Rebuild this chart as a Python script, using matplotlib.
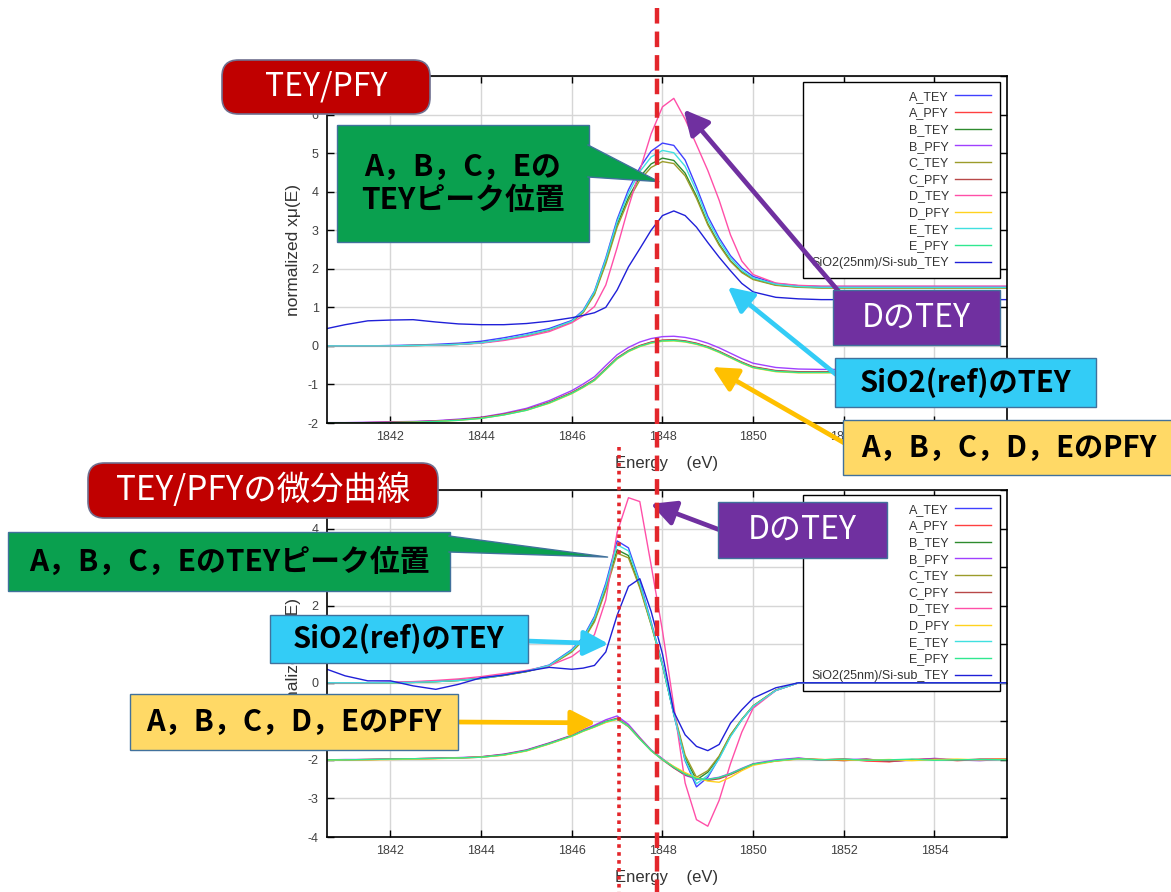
import matplotlib
matplotlib.use("Agg")
import matplotlib.pyplot as plt
from matplotlib.patches import FancyBboxPatch, Rectangle, Polygon
from matplotlib.lines import Line2D
from matplotlib.transforms import blended_transform_factory

plt.rcParams["axes.unicode_minus"] = False

W, H = 1171, 892

# photon energy grid (eV)
energy = [1840.6, 1841.0, 1841.5, 1842.0, 1842.5, 1843.0, 1843.5, 1844.0, 1844.5, 1845.0,
          1845.5, 1846.0, 1846.25, 1846.5, 1846.75, 1847.0, 1847.25, 1847.5, 1847.75, 1848.0,
          1848.25, 1848.5, 1848.75, 1849.0, 1849.25, 1849.5, 1849.75, 1850.0, 1850.5, 1851.0,
          1851.5, 1852.0, 1852.5, 1853.0, 1853.5, 1854.0, 1854.5, 1855.0, 1855.6]

# normalized spectra (PFY shifted down by 2)
a_tey = [0.00, 0.00, 0.00, 0.01, 0.02, 0.04, 0.07, 0.12, 0.21, 0.32,
         0.45, 0.66, 0.92, 1.42, 2.28, 3.28, 4.05, 4.62, 5.05, 5.26,
         5.20, 4.82, 4.12, 3.36, 2.80, 2.34, 2.02, 1.80, 1.62, 1.56,
         1.54, 1.54, 1.54, 1.54, 1.54, 1.54, 1.54, 1.54, 1.54]
a_pfy = [-2.00, -2.00, -1.99, -1.98, -1.97, -1.95, -1.92, -1.87, -1.78, -1.66,
         -1.47, -1.22, -1.06, -0.88, -0.60, -0.32, -0.13, 0.00, 0.09, 0.14,
         0.15, 0.12, 0.06, -0.03, -0.15, -0.29, -0.43, -0.55, -0.65, -0.68,
         -0.68, -0.68, -0.68, -0.68, -0.68, -0.68, -0.68, -0.68, -0.68]
b_tey = [0.00, 0.00, 0.00, 0.00, 0.01, 0.02, 0.04, 0.08, 0.16, 0.27,
         0.41, 0.63, 0.88, 1.36, 2.18, 3.15, 3.85, 4.38, 4.72, 4.87,
         4.81, 4.48, 3.88, 3.17, 2.64, 2.21, 1.92, 1.74, 1.58, 1.53,
         1.51, 1.51, 1.51, 1.51, 1.51, 1.51, 1.51, 1.51, 1.51]
b_pfy = [-1.99, -1.99, -1.98, -1.97, -1.96, -1.94, -1.90, -1.85, -1.75, -1.62,
         -1.42, -1.16, -0.99, -0.80, -0.51, -0.23, -0.04, 0.10, 0.19, 0.24,
         0.25, 0.22, 0.16, 0.07, -0.05, -0.19, -0.33, -0.45, -0.56, -0.60,
         -0.61, -0.61, -0.61, -0.61, -0.61, -0.61, -0.61, -0.61, -0.61]
c_tey = [0.00, 0.00, 0.00, 0.00, 0.01, 0.02, 0.04, 0.08, 0.16, 0.27,
         0.41, 0.62, 0.86, 1.33, 2.13, 3.08, 3.78, 4.30, 4.63, 4.78,
         4.73, 4.41, 3.83, 3.14, 2.61, 2.19, 1.90, 1.72, 1.57, 1.52,
         1.50, 1.50, 1.50, 1.50, 1.50, 1.50, 1.50, 1.50, 1.50]
c_pfy = [-2.00, -2.00, -1.99, -1.98, -1.97, -1.95, -1.92, -1.86, -1.77, -1.65,
         -1.46, -1.21, -1.05, -0.87, -0.59, -0.31, -0.12, 0.01, 0.10, 0.15,
         0.16, 0.13, 0.07, -0.02, -0.14, -0.28, -0.42, -0.54, -0.64, -0.67,
         -0.67, -0.67, -0.67, -0.67, -0.67, -0.67, -0.67, -0.67, -0.67]
d_tey = [0.00, 0.00, 0.00, 0.00, 0.01, 0.02, 0.04, 0.07, 0.14, 0.24,
         0.37, 0.60, 0.78, 1.02, 1.58, 2.55, 3.60, 4.55, 5.50, 6.20,
         6.42, 5.88, 5.22, 4.55, 3.78, 2.88, 2.20, 1.85, 1.63, 1.57,
         1.55, 1.55, 1.55, 1.55, 1.55, 1.55, 1.55, 1.55, 1.55]
d_pfy = [-2.01, -2.01, -2.00, -1.99, -1.98, -1.96, -1.93, -1.88, -1.79, -1.67,
         -1.49, -1.24, -1.08, -0.90, -0.62, -0.34, -0.15, -0.02, 0.07, 0.12,
         0.13, 0.10, 0.04, -0.05, -0.17, -0.31, -0.45, -0.57, -0.67, -0.70,
         -0.70, -0.70, -0.70, -0.70, -0.70, -0.70, -0.70, -0.70, -0.70]
e_tey = [0.00, 0.00, 0.00, 0.00, 0.01, 0.02, 0.04, 0.08, 0.17, 0.28,
         0.42, 0.64, 0.90, 1.40, 2.24, 3.22, 3.96, 4.52, 4.90, 5.07,
         5.01, 4.66, 4.02, 3.27, 2.73, 2.28, 1.96, 1.76, 1.60, 1.54,
         1.52, 1.52, 1.52, 1.52, 1.52, 1.52, 1.52, 1.52, 1.52]
e_pfy = [-2.00, -2.00, -2.00, -1.99, -1.98, -1.96, -1.93, -1.88, -1.79, -1.67,
         -1.48, -1.23, -1.07, -0.89, -0.61, -0.33, -0.14, -0.01, 0.08, 0.13,
         0.14, 0.11, 0.05, -0.04, -0.16, -0.30, -0.44, -0.56, -0.66, -0.69,
         -0.69, -0.69, -0.69, -0.69, -0.69, -0.69, -0.69, -0.69, -0.69]
sio2_tey = [0.45, 0.55, 0.65, 0.67, 0.68, 0.62, 0.57, 0.55, 0.55, 0.58,
            0.64, 0.73, 0.79, 0.86, 1.00, 1.45, 2.05, 2.52, 3.00, 3.38,
            3.50, 3.38, 3.08, 2.68, 2.30, 1.95, 1.62, 1.40, 1.26, 1.22,
            1.20, 1.20, 1.20, 1.20, 1.20, 1.20, 1.20, 1.20, 1.20]

# first derivatives (PFY shifted down by 2)
da_tey = [0.00, 0.00, 0.00, 0.01, 0.02, 0.04, 0.07, 0.12, 0.20, 0.30,
          0.46, 0.86, 1.18, 1.72, 2.58, 3.68, 3.50, 2.62, 1.58, 0.48,
          -0.82, -2.02, -2.70, -2.45, -1.95, -1.38, -0.96, -0.62, -0.20, 0.00,
          0.00, 0.00, 0.00, 0.00, 0.00, 0.00, 0.00, 0.00, 0.00]
da_pfy = [-2.00, -2.00, -1.99, -1.98, -1.97, -1.96, -1.95, -1.93, -1.87, -1.76,
          -1.58, -1.38, -1.25, -1.14, -1.02, -0.93, -1.14, -1.45, -1.75, -1.98,
          -2.18, -2.36, -2.49, -2.52, -2.47, -2.37, -2.24, -2.12, -2.02, -1.96,
          -2.00, -1.97, -2.03, -2.05, -1.99, -1.97, -2.02, -1.99, -1.97]
db_tey = [0.00, 0.00, 0.00, 0.00, 0.01, 0.03, 0.06, 0.11, 0.19, 0.29,
          0.44, 0.82, 1.12, 1.62, 2.45, 3.45, 3.30, 2.50, 1.52, 0.45,
          -0.80, -1.95, -2.52, -2.32, -1.92, -1.36, -0.95, -0.60, -0.19, 0.00,
          0.00, 0.00, 0.00, 0.00, 0.00, 0.00, 0.00, 0.00, 0.00]
db_pfy = [-2.00, -1.99, -1.99, -1.98, -1.97, -1.96, -1.94, -1.92, -1.85, -1.74,
          -1.56, -1.36, -1.22, -1.10, -0.96, -0.86, -1.08, -1.42, -1.74, -1.97,
          -2.20, -2.40, -2.50, -2.50, -2.45, -2.35, -2.22, -2.10, -2.00, -1.95,
          -2.01, -1.99, -1.98, -2.03, -2.01, -1.96, -2.00, -2.02, -1.98]
dc_tey = [0.00, 0.00, 0.00, 0.00, 0.01, 0.03, 0.06, 0.11, 0.19, 0.29,
          0.43, 0.80, 1.10, 1.58, 2.40, 3.36, 3.24, 2.46, 1.50, 0.46,
          -0.76, -1.88, -2.45, -2.28, -1.90, -1.35, -0.95, -0.60, -0.19, 0.00,
          0.00, 0.00, 0.00, 0.00, 0.00, 0.00, 0.00, 0.00, 0.00]
dc_pfy = [-2.00, -2.00, -1.99, -1.98, -1.97, -1.96, -1.95, -1.92, -1.86, -1.75,
          -1.57, -1.37, -1.24, -1.13, -1.00, -0.92, -1.12, -1.44, -1.76, -2.00,
          -2.21, -2.39, -2.47, -2.53, -2.49, -2.38, -2.25, -2.11, -2.03, -1.97,
          -1.99, -2.02, -1.98, -2.04, -2.00, -1.98, -2.01, -1.98, -1.99]
dd_tey = [0.00, 0.00, 0.00, 0.01, 0.03, 0.06, 0.10, 0.16, 0.24, 0.32,
          0.44, 0.68, 0.90, 1.25, 2.15, 3.90, 4.80, 4.70, 3.05, 1.35,
          -0.60, -2.60, -3.55, -3.72, -3.05, -2.10, -1.28, -0.66, -0.20, 0.00,
          0.00, 0.00, 0.00, 0.00, 0.00, 0.00, 0.00, 0.00, 0.00]
dd_pfy = [-2.01, -2.00, -2.00, -1.99, -1.98, -1.97, -1.95, -1.93, -1.88, -1.77,
          -1.59, -1.39, -1.26, -1.15, -1.03, -0.95, -1.13, -1.46, -1.76, -1.99,
          -2.17, -2.33, -2.46, -2.55, -2.58, -2.45, -2.28, -2.14, -2.03, -1.98,
          -1.99, -2.00, -2.01, -1.99, -2.02, -1.99, -1.98, -2.00, -1.98]
de_tey = [0.00, 0.00, 0.00, 0.00, 0.01, 0.03, 0.06, 0.11, 0.20, 0.30,
          0.45, 0.84, 1.15, 1.68, 2.52, 3.58, 3.42, 2.58, 1.55, 0.46,
          -0.82, -2.00, -2.62, -2.40, -1.97, -1.40, -0.96, -0.61, -0.20, 0.00,
          0.00, 0.00, 0.00, 0.00, 0.00, 0.00, 0.00, 0.00, 0.00]
de_pfy = [-2.00, -2.00, -1.99, -1.98, -1.97, -1.96, -1.95, -1.93, -1.87, -1.76,
          -1.58, -1.38, -1.25, -1.14, -1.01, -0.94, -1.13, -1.46, -1.76, -1.99,
          -2.19, -2.37, -2.48, -2.51, -2.46, -2.36, -2.23, -2.11, -2.02, -1.97,
          -2.00, -1.98, -2.01, -2.00, -1.98, -2.01, -2.00, -1.99, -2.00]
dsio2_tey = [0.35, 0.18, 0.05, 0.05, -0.08, -0.17, -0.04, 0.13, 0.20, 0.30,
             0.40, 0.35, 0.38, 0.45, 0.80, 1.75, 2.50, 2.70, 1.85, 0.75,
             -0.75, -1.35, -1.65, -1.76, -1.60, -1.05, -0.70, -0.40, -0.13, 0.00,
             0.00, 0.00, 0.00, 0.00, 0.00, 0.00, 0.00, 0.00, 0.00]

names = ["A_TEY", "A_PFY", "B_TEY", "B_PFY", "C_TEY", "C_PFY",
         "D_TEY", "D_PFY", "E_TEY", "E_PFY", "SiO2(25nm)/Si-sub_TEY"]
colors = ["#4040ff", "#ff4040", "#2e8b2e", "#a040ff", "#9c9c2a", "#b84848",
          "#ff4fa8", "#ffd21e", "#40e0e0", "#30e890", "#2020d8"]
spectra = [a_tey, a_pfy, b_tey, b_pfy, c_tey, c_pfy,
           d_tey, d_pfy, e_tey, e_pfy, sio2_tey]
derivs = [da_tey, da_pfy, db_tey, db_pfy, dc_tey, dc_pfy,
          dd_tey, dd_pfy, de_tey, de_pfy, dsio2_tey]

JP = ["Noto Sans CJK JP", "DejaVu Sans"]
LAT = ["Liberation Sans", "DejaVu Sans"]

fig = plt.figure(figsize=(W / 100, H / 100), dpi=100)


def fxy(x, y):
    """pixel position (top-left origin) -> figure fraction"""
    return x / W, 1 - y / H


def make_axes(top, bottom, left=327, right=1007):
    return fig.add_axes([left / W, 1 - bottom / H, (right - left) / W, (bottom - top) / H])


def draw_panel(ax, series, ylim, legend_top):
    for y, c, n in zip(series, colors, names):
        ax.plot(energy, y, color=c, lw=1.0, label=n, zorder=2)
    ax.set_xlim(1840.6, 1855.6)
    ax.set_ylim(*ylim)
    ax.set_xticks(range(1842, 1856, 2))
    ax.set_yticks(range(ylim[0], ylim[1] + 1))
    ax.set_axisbelow(True)
    ax.grid(True, color="#d6d6d6", lw=1.0)
    ax.tick_params(direction="in", top=True, right=True, length=5, width=1,
                   labelsize=9, labelcolor="#404040", pad=6)
    for lab in ax.get_xticklabels() + ax.get_yticklabels():
        lab.set_family(LAT)
    for s in ax.spines.values():
        s.set_linewidth(1.2)
    ax.set_xlabel("Energy    (eV)", fontsize=12, color="#333333", family=LAT, labelpad=9)
    ax.set_ylabel("normalized xμ(E)", fontsize=12.5, color="#333333", family=LAT, labelpad=5)
    leg = ax.legend(loc="upper right", bbox_to_anchor=(0.99, legend_top),
                    markerfirst=False, fancybox=False, framealpha=1, edgecolor="black",
                    prop={"family": LAT, "size": 9}, handlelength=2.9, handletextpad=0.5,
                    labelspacing=0.37, borderpad=0.7, borderaxespad=0)
    leg.get_frame().set_linewidth(1.0)
    for t in leg.get_texts():
        t.set_color("#333333")
    leg.set_zorder(1)


ax_top = make_axes(76, 423)
ax_bot = make_axes(490, 837)
draw_panel(ax_top, spectra, (-2, 7), (423 - 82) / 347)
draw_panel(ax_bot, derivs, (-4, 5), (837 - 495) / 347)


def label_box(x0, y0, x1, y1, text, fc, color, size, weight="normal",
              rounded=False, ec="#41719c"):
    fx, fy = fxy(x0, y1)
    w, h = (x1 - x0) / W, (y1 - y0) / H
    if rounded:
        patch = FancyBboxPatch((fx, fy), w, h, boxstyle="round,pad=0,rounding_size=0.014",
                               mutation_aspect=W / H, transform=fig.transFigure,
                               fc=fc, ec=ec, lw=1.2, zorder=10)
    else:
        patch = Rectangle((fx, fy), w, h, transform=fig.transFigure,
                          fc=fc, ec=ec, lw=1.0, zorder=10)
    fig.add_artist(patch)
    cx, cy = fxy((x0 + x1) / 2, (y0 + y1) / 2)
    fig.text(cx, cy, text, ha="center", va="center", fontsize=size, color=color,
             weight=weight, family=JP, zorder=11, linespacing=1.15)


def to_fig(ax, x, y):
    disp = ax.transData.transform((x, y))
    return fig.transFigure.inverted().transform(disp)


def arrow(ax, target, start, color):
    ax.annotate("", xy=target, xycoords="data", xytext=fxy(*start),
                textcoords="figure fraction", annotation_clip=False, zorder=9,
                arrowprops=dict(arrowstyle="-|>,head_length=0.75,head_width=0.38",
                                color=color, lw=3.4, shrinkA=0, shrinkB=0,
                                mutation_scale=20))


def wedge(ax, base_x, base_top, base_bot, tip, fc, ec="#41719c"):
    tx, ty = to_fig(ax, *tip)
    p0, p1 = fxy(base_x, base_top), fxy(base_x, base_bot)
    fig.add_artist(Polygon([p0, (tx, ty), p1], closed=True, transform=fig.transFigure,
                           fc=fc, ec="none", zorder=10.5))
    fig.add_artist(Line2D([p0[0], tx, p1[0]], [p0[1], ty, p1[1]], transform=fig.transFigure,
                          color=ec, lw=1.0, zorder=10.6))


GREEN = "#0aa04f"
PURPLE = "#7030a0"
CYAN = "#33ccf6"
YELLOW = "#ffd966"
RED = "#c00000"

# top panel call-outs
arrow(ax_top, (1848.47, 6.13), (840, 293), PURPLE)
arrow(ax_top, (1849.44, 1.53), (838, 376), CYAN)
arrow(ax_top, (1849.1, -0.55), (846, 444), "#ffc000")
label_box(222, 60, 430, 114, "TEY/PFY", RED, "white", 23, rounded=True, ec="#6f6f8f")
label_box(337, 125, 589, 242, "A，B，C，Eの\nTEYピーク位置", GREEN, "black", 21.5, weight="bold")
wedge(ax_top, 588, 145, 177, (1847.92, 4.26), GREEN)
label_box(833, 290, 1000, 345, "DのTEY", PURPLE, "white", 23)
label_box(835, 358, 1096, 407, "SiO2(ref)のTEY", CYAN, "black", 21, weight="bold")
label_box(843, 420, 1175, 475, "A，B，C，D，EのPFY", YELLOW, "black", 21, weight="bold")

# bottom panel call-outs
arrow(ax_bot, (1847.74, 4.64), (720, 530), PURPLE)
arrow(ax_bot, (1846.81, 1.01), (526, 641), CYAN)
arrow(ax_bot, (1846.53, -1.04), (456, 722), "#ffc000")
label_box(88, 463, 438, 518, "TEY/PFYの微分曲線", RED, "white", 24, rounded=True, ec="#6f6f8f")
label_box(8, 532, 450, 591, "A，B，C，EのTEYピーク位置", GREEN, "black", 21.5, weight="bold")
wedge(ax_bot, 449, 536, 552, (1846.79, 3.26), GREEN)
label_box(718, 502, 887, 558, "DのTEY", PURPLE, "white", 23)
label_box(270, 615, 528, 663, "SiO2(ref)のTEY", CYAN, "black", 21, weight="bold")
label_box(130, 694, 458, 750, "A，B，C，D，EのPFY", YELLOW, "black", 21, weight="bold")

# peak-position markers running through both panels
vtrans = blended_transform_factory(ax_top.transData, fig.transFigure)
fig.add_artist(Line2D([1847.89, 1847.89], [1 - 8 / H, 0], transform=vtrans,
                      color="#e3262b", lw=3.2, ls=(0, (3.5, 1.8)), zorder=12))
fig.add_artist(Line2D([1847.04, 1847.04], [1 - 447 / H, 0], transform=vtrans,
                      color="#e3262b", lw=2.6, ls=(0, (1, 1.2)), zorder=12))

fig.savefig("out.png", dpi=100)
